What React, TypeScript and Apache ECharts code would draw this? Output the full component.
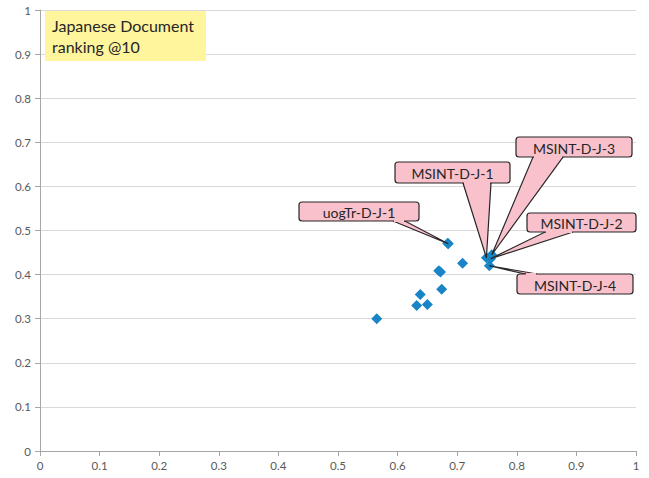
import React, { useEffect, useRef } from "react";
import * as echarts from "echarts";

// ---- data ----
const xValues: number[] = [0.565, 0.632, 0.65, 0.638, 0.674, 0.669, 0.672, 0.709, 0.685, 0.684, 0.749, 0.758, 0.756, 0.754];
const yValues: number[] = [0.3, 0.33, 0.332, 0.355, 0.367, 0.409, 0.406, 0.426, 0.47, 0.471, 0.438, 0.445, 0.436, 0.42];
const calloutLabels: string[] = ["uogTr-D-J-1", "MSINT-D-J-1", "MSINT-D-J-3", "MSINT-D-J-2", "MSINT-D-J-4"];
const calloutPointIndex: number[] = [8, 10, 11, 12, 13];
const titleLines: string[] = ["Japanese Document", "ranking @10"];

// ---- layout for the callout boxes (pixels) ----
const calloutBoxes = [
  { x: 299, y: 202, w: 120, h: 19, b1: 393, b2: 405, side: "bottom" },
  { x: 395, y: 162, w: 115, h: 21, b1: 463, b2: 491, side: "bottom" },
  { x: 516, y: 137, w: 116, h: 20, b1: 533, b2: 563, side: "bottom" },
  { x: 527, y: 213, w: 109, h: 19, b1: 545, b2: 573, side: "bottom" },
  { x: 517, y: 274, w: 116, h: 20, b1: 525, b2: 537, side: "top" },
];

const FONT = "Lato, 'Open Sans', sans-serif";

export default function App() {
  const ref = useRef<HTMLDivElement>(null);
  useEffect(() => {
    if (!ref.current) return;
    const chart = echarts.init(ref.current, undefined, { renderer: "svg" });
    const data = xValues.map((x, i) => [x, yValues[i]]);
    const axisLabel = { color: "#595959", fontSize: 11.5, fontFamily: FONT };
    chart.setOption({
      animation: false,
      backgroundColor: "#ffffff",
      grid: { left: 40, right: 13, top: 10, bottom: 27, containLabel: false },
      xAxis: {
        type: "value",
        min: 0,
        max: 1,
        interval: 0.1,
        axisLine: { show: true, lineStyle: { color: "#a6a6a6", width: 1 } },
        axisTick: { show: true, length: 5, lineStyle: { color: "#a6a6a6" } },
        splitLine: { show: false },
        axisLabel: { ...axisLabel, margin: 8 },
      },
      yAxis: {
        type: "value",
        min: 0,
        max: 1,
        interval: 0.1,
        axisLine: { show: true, lineStyle: { color: "#a6a6a6", width: 1 } },
        axisTick: { show: true, length: 5, lineStyle: { color: "#a6a6a6" } },
        splitLine: { show: true, lineStyle: { color: "#d9d9d9", width: 1 } },
        axisLabel: { ...axisLabel, margin: 9 },
      },
      series: [
        {
          type: "scatter",
          symbol: "diamond",
          symbolSize: 11,
          itemStyle: { color: "#1a85c6", opacity: 1 },
          data,
          z: 2,
        },
      ],
    });

    const graphics: any[] = [];
    // title box
    graphics.push({
      type: "rect",
      shape: { x: 45, y: 11, width: 161, height: 50 },
      style: { fill: "#fff59d" },
      z: 10,
    });
    graphics.push({
      type: "text",
      x: 52,
      y: 15,
      style: {
        text: titleLines.join("\n"),
        font: `16px ${FONT}`,
        fill: "#262626",
        lineHeight: 21,
      },
      z: 11,
    });

    calloutLabels.forEach((label, i) => {
      const idx = calloutPointIndex[i];
      const tip = chart.convertToPixel({ seriesIndex: 0 }, [xValues[idx], yValues[idx]]) as number[];
      const b = calloutBoxes[i];
      const baseY = b.side === "bottom" ? b.y + b.h : b.y;
      const pink = "#f8c1cb";
      const stroke = "#262626";
      graphics.push({
        type: "polygon",
        shape: { points: [[b.b1, baseY], [b.b2, baseY], [tip[0], tip[1]]] },
        style: { fill: pink, stroke, lineWidth: 1.2 },
        z: 20,
      });
      graphics.push({
        type: "rect",
        shape: { x: b.x, y: b.y, width: b.w, height: b.h, r: 3 },
        style: { fill: pink, stroke, lineWidth: 1.2 },
        z: 21,
      });
      graphics.push({
        type: "line",
        shape: { x1: b.b1 + 1, y1: baseY, x2: b.b2 - 1, y2: baseY },
        style: { stroke: pink, lineWidth: 2 },
        z: 22,
      });
      graphics.push({
        type: "text",
        x: b.x + b.w / 2,
        y: b.y + b.h / 2 + 1,
        style: {
          text: label,
          font: `14px ${FONT}`,
          fill: "#262626",
          align: "center",
          verticalAlign: "middle",
        },
        z: 23,
      });
    });
    chart.setOption({ graphic: graphics });

    return () => chart.dispose();
  }, []);
  return (
    <div
      ref={ref}
      style={{ position: "absolute", left: 0, top: 0, width: 649, height: 478 }}
    />
  );
}
